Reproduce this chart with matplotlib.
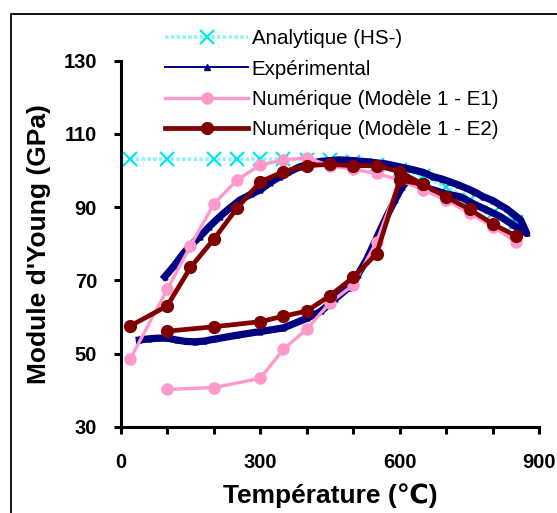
import matplotlib
matplotlib.use("Agg")
import matplotlib.pyplot as plt
from matplotlib.lines import Line2D
from matplotlib.patches import Rectangle

plt.rcParams['font.family'] = ['Liberation Sans', 'DejaVu Sans']

# Analytical bound (HS-)
ana_T = [20, 100, 200, 250, 300, 350, 400, 450, 500, 550, 600, 650, 700, 750, 800, 850]
ana_E = [103.1, 103.1, 103.1, 103.1, 103.1, 103.1, 103.0, 102.8, 102.3, 101.5, 100.2, 98.5, 95.5, 92.0, 88.5, 86.0]

# Experimental loop: heating branch then cooling branch
exp_T = [40, 60, 80, 100, 120, 140, 160, 180, 200, 250, 300, 350, 400, 430, 460, 490, 510,
         530, 550, 570, 590, 605, 615, 630, 650, 672, 700, 730, 760, 787, 815, 844, 873,
         860, 851, 830, 815, 800, 780, 760, 744, 725, 708, 690, 672, 650, 625, 600, 570,
         529, 500, 470, 430, 400, 385, 360, 342, 320, 300, 280, 256, 235, 213, 190, 170,
         150, 135, 115, 95]
exp_E = [53.7, 54.0, 54.2, 54.2, 53.7, 53.3, 53.2, 53.4, 53.9, 55.0, 56.0, 57.0, 59.6,
         61.5, 64.8, 68.0, 71.5, 76.0, 81.5, 87.0, 92.0, 95.5, 97.0, 96.8, 95.5, 94.7,
         93.6, 92.8, 90.8, 89.2, 87.5, 85.1, 82.8,
         86.5, 87.4, 89.5, 90.6, 91.8, 92.8, 94.2, 95.1, 96.1, 96.9, 97.7, 98.3, 99.5,
         100.3, 101.0, 101.8, 102.4, 102.7, 102.9, 102.5, 101.6, 101.0, 99.5, 98.3, 96.6,
         94.7, 93.5, 91.9, 89.8, 87.4, 84.6, 81.9, 79.5, 77.4, 74.0, 71.0]

# Numerical model 1 - E1
e1_up_T = [20, 100, 150, 200, 250, 300, 350, 400, 450, 500, 550, 600, 650, 700, 750, 800, 850]
e1_up_E = [48.4, 67.5, 79.4, 90.8, 97.4, 101.5, 102.9, 103.5, 101.3, 100.3, 99.2, 97.4,
           94.7, 91.9, 88.3, 84.6, 80.5]
e1_low_T = [100, 200, 300, 350, 400, 450, 500, 550, 600]
e1_low_E = [40.2, 40.7, 43.2, 51.2, 56.6, 63.9, 68.7, 80.5, 97.4]

# Numerical model 1 - E2
e2_up_T = [20, 100, 150, 200, 250, 300, 350, 400, 450, 500, 550, 600, 650, 700, 750, 800, 850]
e2_up_E = [57.5, 63.0, 73.5, 81.2, 89.7, 96.9, 99.7, 101.3, 101.7, 101.3, 101.3, 99.7,
           96.2, 92.8, 89.4, 85.4, 82.1]
e2_low_T = [100, 200, 300, 350, 400, 450, 500, 550, 600, 650]
e2_low_E = [56.1, 57.3, 58.7, 60.2, 61.6, 65.8, 70.8, 77.2, 97.4, 96.2]

labels = ["Analytique (HS-)", "Expérimental",
          "Numérique (Modèle 1 - E1)", "Numérique (Modèle 1 - E2)"]

c_ana = "#00e8ee"
c_ana_line = "#8ff4f6"
c_exp = "#000080"
c_e1 = "#ff99cc"
c_e2 = "#800000"

fig = plt.figure(figsize=(5.57, 5.13), dpi=100)
ax = fig.add_axes([0.2167, 0.1682, 0.7515, 0.7135])

ax.plot(ana_T, ana_E, color=c_ana_line, lw=2.6, ls=(0, (1, 0.6)), zorder=1)
ax.plot(ana_T, ana_E, ls="none", marker="x", ms=10, mew=1.6, color=c_ana, zorder=1.1)

ax.plot(exp_T, exp_E, color=c_exp, lw=5.2, solid_joinstyle="round", zorder=2)
ax.plot(exp_T, exp_E, ls="none", marker="^", ms=3.5, color=c_exp, zorder=2.1)

for T, E in ((e1_up_T, e1_up_E), (e1_low_T, e1_low_E)):
    ax.plot(T, E, color=c_e1, lw=2.4, marker="o", ms=8, mec=c_e1, zorder=3)
for T, E in ((e2_up_T, e2_up_E), (e2_low_T, e2_low_E)):
    ax.plot(T, E, color=c_e2, lw=3.4, marker="o", ms=8.5, mec=c_e2, zorder=4)

ax.set_xlim(0, 900)
ax.set_ylim(30, 130)
ax.set_xticks([0, 300, 600, 900])
ax.set_xticks(range(0, 901, 100), minor=True)
ax.set_yticks(range(30, 131, 20))

for s in ("top", "right"):
    ax.spines[s].set_visible(False)
for s in ("left", "bottom"):
    ax.spines[s].set_linewidth(2.2)
ax.tick_params(axis="both", which="both", direction="out", width=2.2, length=5,
               labelsize=14.5)
ax.tick_params(axis="y", pad=12)
ax.tick_params(axis="x", pad=14)
for lab in ax.get_xticklabels() + ax.get_yticklabels():
    lab.set_fontweight("bold")

ax.set_xlabel("Température (℃)", fontsize=19, fontweight="bold", labelpad=8)
ax.set_ylabel("Module d'Young (GPa)", fontsize=19, fontweight="bold", labelpad=9)

handles = [
    Line2D([], [], color=c_ana_line, lw=2.6, ls=(0, (1, 0.6)), marker="x", ms=10,
           mew=1.6, mec=c_ana),
    Line2D([], [], color=c_exp, lw=1.4, marker="^", ms=4),
    Line2D([], [], color=c_e1, lw=2.4, marker="o", ms=8),
    Line2D([], [], color=c_e2, lw=3.4, marker="o", ms=8.5),
]
fig.legend(handles, labels, loc="upper left", bbox_to_anchor=(0.297, 0.943),
           frameon=False, fontsize=14.8, handlelength=4.0, handletextpad=0.2,
           labelspacing=0.55, borderaxespad=0, borderpad=0)

fig.patches.append(Rectangle((10.7 / 557, -0.05), 1.1, 1 - 14.3 / 513 + 0.05,
                             transform=fig.transFigure, fill=False, lw=1.3,
                             edgecolor="black", clip_on=False))

fig.savefig("out.png", dpi=100)
